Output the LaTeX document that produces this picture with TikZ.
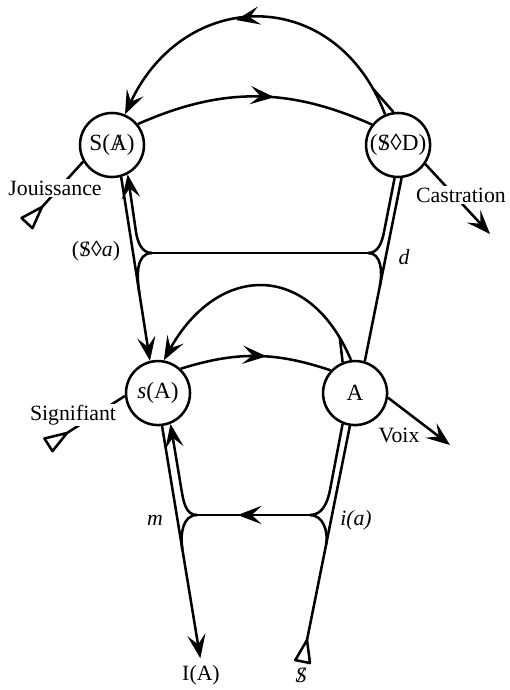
\documentclass[tikz,border=0pt]{standalone}
\usepackage{fontspec}
\setmainfont{Liberation Serif}
\usetikzlibrary{positioning,arrows.meta,decorations.markings}

\newcommand{\barredS}{\ooalign{S\cr\hidewidth/\hidewidth}}
\newcommand{\barredA}{\ooalign{A\cr\hidewidth/\hidewidth}}
\newcommand{\myLoz}{\char"25CA\relax}

\begin{document}
\begin{tikzpicture}[x=0.025cm,y=0.025cm,line width=1.8pt,>={Stealth[length=17pt,width=13pt,inset=7pt]}]
\tikzset{myFont/.style={font=\fontsize{15.5}{18}\selectfont}}
\tikzset{myCircle/.style={draw,circle,minimum size=1.6cm,inner sep=0pt,font=\fontsize{16.5}{19}\selectfont}}
\tikzset{myLabel/.style={myFont,inner sep=1pt}}
\tikzset{myWhite/.style={fill=white}}
\tikzset{midArrow/.style={postaction={decorate},decoration={markings,mark=at position #1 with {\arrow{>}}}}}
\tikzset{pics/tail/.style={code={\draw[line join=round] (0,0) -- (-22,7.5) -- (-22,-7.5) -- cycle;}}}

\useasboundingbox (0,0) rectangle (509,-690);

% the four places
\node[myCircle] (SA) at (112,-145) {S(\barredA)};
\node[myCircle,on grid,right=7.15cm of SA] (SD) {(\barredS\myLoz D)};
\node[myCircle,on grid,below right=6.2cm and 1.15cm of SA] (sA) {\textit{s}(A)};
\node[myCircle,on grid,right=4.925cm of sA] (A) {A};

\node[myLabel] (IA) at (201,-675) {I(A)};
\node[myLabel] (Sbar) at (301,-675) {\textit{\barredS}};
\node[myLabel] (Sa) at (96,-251) {(\barredS\myLoz\textit{a})};
\node[myLabel] (d) at (404,-257) {\textit{d}};
\node[myLabel] (m) at (155,-520) {\textit{m}};
\node[myLabel] (ia) at (356,-520) {\textit{i(a)}};

\coordinate (JL) at (152,-253);
\coordinate (JR) at (368,-253);
\coordinate (JLu) at (136,-232);
\coordinate (JRu) at (384,-232);
\coordinate (JLL) at (197,-515);
\coordinate (JRR) at (310,-515);
\coordinate (JLLu) at (181.5,-490);
\coordinate (JRRu) at (330,-490);
\coordinate (Jtail) at (42,-207);
\coordinate (Sgtail) at (67,-433);
\coordinate (Stail) at (307,-640);
\coordinate (castEnd) at (490,-234);
\coordinate (voixEnd) at (450,-445);

% upper storey
\draw[->,midArrow=0.56] (SD.113) to[out=111,in=65,looseness=1.38] coordinate[pos=0.07] (topFork) (SA.67);
\draw (SD.98) -- (topFork);
\draw[midArrow=0.58] (SA.39) to[bend left=24] (SD.142);

\draw[->] (SA.-74) -- coordinate[pos=0.63] (JLd) (sA.104);
\draw[->] (JL) to[out=180,in=-81] (JLu) -- (SA.-62);
\draw (JL) to[out=180,in=99] (JLd);
\draw (JL) -- (JR);

\draw (A.73) -- coordinate[pos=0.41] (JRd) (SD.-84);
\draw (JR) to[out=0,in=-101] (JRu) -- (SD.-96);
\draw (JR) to[out=0,in=79] (JRd);

% lower storey
\draw[->] (A.97) to[out=113,in=61,looseness=1.5] coordinate[pos=0.08] (lowFork) (sA.80);
\draw (A.112) -- (lowFork);
\draw[midArrow=0.57] (sA.47) to[bend left=18] (A.137);

\draw[->,shorten >=3pt] (sA.-83) -- coordinate[pos=0.52] (JLLd) (IA.north);
\draw[->] (JLL) to[out=180,in=-80] (JLLu) -- (sA.-68);
\draw (JLL) to[out=180,in=99] (JLLd);
\draw[midArrow=0.64] (JRR) -- (JLL);

\draw (Stail) -- coordinate[pos=0.445] (JRRd) (A.-99);
\draw (JRR) to[out=0,in=-101] (JRRu) -- (A.-112);
\draw (JRR) to[out=0,in=79] (JRRd);

% ins and outs
\draw (Jtail) -- (SA.210);
\draw (Sgtail) -- (sA.185);
\draw[->] (SD.-35) -- (castEnd);
\draw[->] (A.-8) -- (voixEnd);
\pic[rotate=47] at (Jtail) {tail};
\pic[rotate=32.5] at (Sgtail) {tail};
\pic[rotate=78.6] at (Stail) {tail};

\node[myLabel,myWhite] (jouis) at (55,-188) {Jouissance};
\node[myLabel,myWhite] (signif) at (73,-415) {Signifiant};
\node[myLabel,myWhite] (castr) at (461,-195) {Castration};
\node[myLabel] (voix) at (399,-435) {Voix};
\end{tikzpicture}
\end{document}
